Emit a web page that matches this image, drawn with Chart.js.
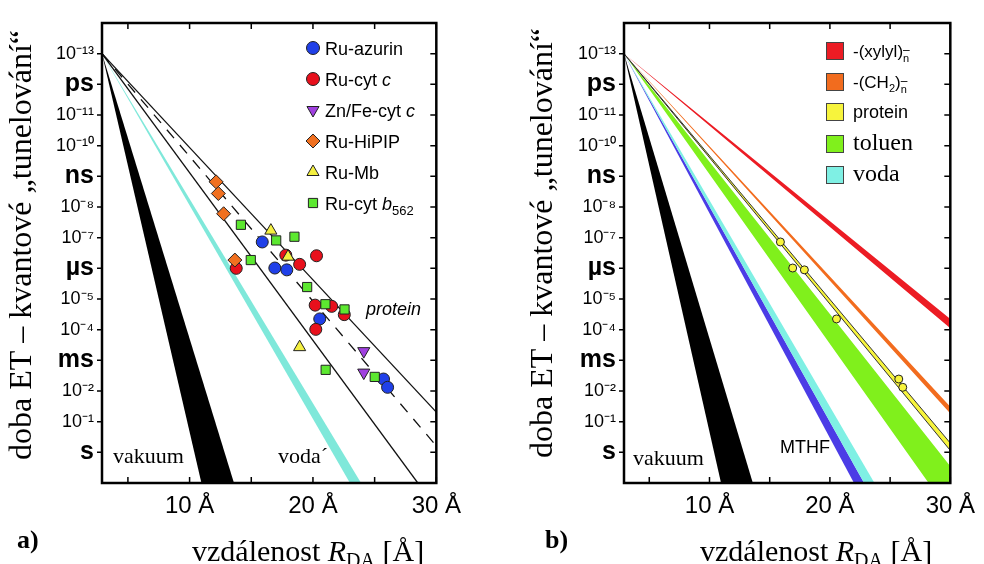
<!DOCTYPE html>
<html>
<head>
<meta charset="utf-8">
<script src="https://cdn.jsdelivr.net/npm/chart.js@4/dist/chart.umd.min.js"></script>
<style>
body { margin: 0; background: #fff; }
#wrap { position: relative; width: 984px; height: 564px; }
#chartA { position: absolute; left: 0; top: 0; }
#chartB { position: absolute; left: 470px; top: 0; }
</style>
</head>
<body>
<div id="wrap">
<canvas id="chartA" width="470" height="564"></canvas>
<canvas id="chartB" width="514" height="564"></canvas>
</div>
<script>
var SANS = '"Liberation Sans", Arial, sans-serif',
    SERIF = '"Liberation Serif", "Times New Roman", serif';

// y = log10(ET time / s)
var yTicks = [-13, -12, -11, -10, -9, -8, -7, -6, -5, -4, -3, -2, -1, 0];
var yLabels = ['10⁻¹³', 'ps', '10⁻¹¹', '10⁻¹⁰', 'ns', '10⁻⁸', '10⁻⁷', 'µs', '10⁻⁵', '10⁻⁴', 'ms', '10⁻²', '10⁻¹', 's'];
var unitLabels = ['ps', 'ns', 'µs', 'ms', 's'];
var xTicks = [5, 10, 15, 20, 25, 30];
var xLabels = ['', '10 Å', '', '20 Å', '', '30 Å'];

// panel a) measured points (R in Å, log10 t)
var azurinR = [15.89, 16.91, 17.88, 20.55, 25.72, 26.05];
var azurinT = [-6.86, -6.01, -5.95, -4.35, -2.39, -2.12];
var cytcR = [13.78, 17.80, 18.92, 20.29, 20.18, 21.52, 22.54, 20.23];
var cytcT = [-6.00, -6.43, -6.13, -6.41, -4.80, -4.76, -4.49, -4.01];
var znfeR = [24.12, 24.12];
var znfeT = [-3.30, -2.60];
var hipipR = [12.15, 12.33, 12.76, 13.67];
var hipipT = [-8.82, -8.44, -7.78, -6.27];
var mbR = [16.59, 17.98, 18.92];
var mbT = [-7.23, -6.38, -3.43];
var b562R = [14.16, 17.02, 18.50, 14.96, 19.53, 21.01, 22.56, 21.03, 25.01];
var b562T = [-7.42, -6.91, -7.03, -6.27, -5.39, -4.83, -4.66, -2.69, -2.46];

// decay lines and bands, vertices [R, log10 t]
var vacuumWedge = [[2.9, -13], [10.96, 1], [13.6, 1]];
var waterWedge = [[2.9, -13], [23.0, 1], [23.9, 1]];
var proteinUpper = [[2.9, -13], [30, -1.31]];
var proteinMean = [[2.9, -13], [30, -0.21]];
var proteinLower = [[2.9, -13], [28.5, 1]];

// panel b)
var mthfBand = [[2.9, -13], [22.0, 1], [22.84, 1]];
var waterBand = [[2.9, -13], [22.84, 1], [23.7, 1]];
var tolueneBand = [[2.9, -13], [30, 0.45], [30, 1], [28.2, 1]];
var proteinBand = [[2.9, -13], [30, -0.30], [30, -0.06], [2.9, -13]];
var ch2Band = [[2.9, -13], [30, -1.49], [30, -1.27]];
var xylylBand = [[2.9, -13], [30, -4.35], [30, -4.05]];

function pts(xs, ys) {
    return xs.map(function (x, i) { return {x: x, y: ys[i]}; });
}
function poly(list) {
    return list.map(function (p) { return {x: p[0], y: p[1]}; });
}
function markers(xs, ys, color, style, r, rot) {
    return {
        data: pts(xs, ys), showLine: false,
        pointStyle: style, pointRadius: r, pointRotation: rot || 0,
        backgroundColor: color, borderColor: '#222', borderWidth: 1
    };
}
function line(list, color, width, dash) {
    return {
        data: poly(list), showLine: true, fill: false, pointRadius: 0,
        borderColor: color, borderWidth: width, borderDash: dash || []
    };
}
function band(list, color, edge, edgeWidth) {
    return {
        data: poly(list), showLine: true, fill: 'shape', pointRadius: 0,
        backgroundColor: color, borderColor: edge || color, borderWidth: edgeWidth || 0
    };
}

function yFont(c) {
    var v = c && c.tick ? c.tick.value : null;
    var lab = yLabels[yTicks.indexOf(v)];
    return unitLabels.indexOf(lab) >= 0 ? {family: SANS, size: 25, weight: 'bold'} : {family: SANS, size: 18};
}

function scales(yWidth) {
    return {
        x: {
            type: 'linear', min: 2.9, max: 30,
            grid: {display: false, drawTicks: false}, border: {display: false},
            afterBuildTicks: function (s) { s.ticks = xTicks.map(function (v) { return {value: v}; }); },
            afterFit: function (s) { s.height = 81; },
            ticks: {
                padding: 9, color: '#000', autoSkip: false, maxRotation: 0,
                font: {family: SANS, size: 24},
                callback: function (v) { return xLabels[xTicks.indexOf(v)]; }
            }
        },
        y: {
            type: 'linear', min: -14, max: 1, reverse: true,
            grid: {display: false, drawTicks: false}, border: {display: false},
            afterBuildTicks: function (s) { s.ticks = yTicks.map(function (v) { return {value: v}; }); },
            afterFit: function (s) { s.width = yWidth; },
            ticks: {
                padding: 8, color: '#000', autoSkip: false,
                font: yFont,
                callback: function (v) { return yLabels[yTicks.indexOf(v)]; }
            }
        }
    };
}

function rich(c, x, y, parts) {
    parts.forEach(function (p) {
        c.font = p[1];
        c.fillText(p[0], x, y + (p[2] || 0));
        if (!p[3]) x += c.measureText(p[0]).width;
    });
}

function titles(c, tx, ty, bx, by) {
    c.save();
    c.translate(tx, ty);
    c.rotate(-Math.PI / 2);
    c.textAlign = 'center';
    c.textBaseline = 'middle';
    c.font = '32px ' + SERIF;
    c.fillText('doba ET – kvantové „tunelování“', 0, 0);
    c.restore();
    c.textAlign = 'left';
    c.textBaseline = 'alphabetic';
    rich(c, bx, by, [['vzdálenost ', '30px ' + SERIF], ['R', 'italic 30px ' + SERIF],
        ['DA', '20px ' + SERIF, 6], [' [Å]', '30px ' + SERIF]]);
}

function framePlugin(draw) {
    return {
        id: 'frame',
        beforeDraw: function (chart) {
            var c = chart.ctx;
            c.save();
            c.fillStyle = '#fff';
            c.fillRect(0, 0, chart.width, chart.height);
            c.restore();
        },
        afterDraw: function (chart) {
            var c = chart.ctx, a = chart.chartArea, xs = chart.scales.x, ys = chart.scales.y;
            c.save();
            c.strokeStyle = '#000';
            c.lineWidth = 1.5;
            c.beginPath();
            xTicks.forEach(function (v) {
                var px = xs.getPixelForValue(v);
                c.moveTo(px, a.top); c.lineTo(px, a.top + 6);
                c.moveTo(px, a.bottom); c.lineTo(px, a.bottom - 6);
            });
            yTicks.forEach(function (v) {
                var py = ys.getPixelForValue(v);
                c.moveTo(a.left - 5, py); c.lineTo(a.left, py);
                c.moveTo(a.right, py); c.lineTo(a.right - 6, py);
            });
            c.stroke();
            c.lineWidth = 2.5;
            c.strokeRect(a.left, a.top, a.right - a.left, a.bottom - a.top);
            c.fillStyle = '#000';
            draw(c, chart);
            c.restore();
        }
    };
}

var colA = {azurin: '#2040e8', cytc: '#e8101c', znfe: '#a040e0', hipip: '#f07020', mb: '#f4f040', b562: '#5ce830'};
var colB = {xylyl: '#ec1c24', ch2: '#f26c1e', protein: '#f7f43c', toluene: '#80f01c', water: '#7ff0e4', mthf: '#4b3ce6'};

var legendA = [
    {style: 'circle', r: 6.5, color: colA.azurin, parts: [['Ru-azurin', '18px ' + SANS]]},
    {style: 'circle', r: 6.5, color: colA.cytc, parts: [['Ru-cyt ', '18px ' + SANS], ['c', 'italic 18px ' + SANS]]},
    {style: 'triangle', r: 7, rot: 180, color: colA.znfe, parts: [['Zn/Fe-cyt ', '18px ' + SANS], ['c', 'italic 18px ' + SANS]]},
    {style: 'rectRot', r: 7, color: colA.hipip, parts: [['Ru-HiPIP', '18px ' + SANS]]},
    {style: 'triangle', r: 7, color: colA.mb, parts: [['Ru-Mb', '18px ' + SANS]]},
    {style: 'rect', r: 6.5, color: colA.b562, parts: [['Ru-cyt ', '18px ' + SANS], ['b', 'italic 18px ' + SANS], ['562', '13px ' + SANS, 5]]}
];
var legendRowsA = [48, 79, 110, 141, 172, 203];

var legendB = [
    {color: colB.xylyl, parts: [['-(xylyl)', '17px ' + SANS], ['–', '12px ' + SANS, -3, true], ['n', '11px ' + SANS, 5]]},
    {color: colB.ch2, parts: [['-(CH', '17px ' + SANS], ['2', '11px ' + SANS, 4], [')', '17px ' + SANS], ['–', '12px ' + SANS, -3, true], ['n', '11px ' + SANS, 5]]},
    {color: colB.protein, parts: [['protein', '18px ' + SANS]]},
    {color: colB.toluene, parts: [['toluen', '24px ' + SERIF]]},
    {color: colB.water, parts: [['voda', '24px ' + SERIF]]}
];
var legendRowsB = [51, 82, 112, 144, 175];

function drawA(c) {
    c.font = '22px ' + SERIF;
    c.fillText('vakuum', 113, 463);
    c.fillText('voda´', 278, 463);
    c.font = 'italic 18px ' + SANS;
    c.fillText('protein', 366, 315);
    c.font = 'bold 26px ' + SERIF;
    c.fillText('a)', 17, 548);
    titles(c, 23, 245, 192, 561);
    legendA.forEach(function (it, i) {
        var y = legendRowsA[i];
        c.fillStyle = it.color;
        c.strokeStyle = '#222';
        c.lineWidth = 1;
        Chart.helpers.drawPoint(c, {pointStyle: it.style, radius: it.r, rotation: it.rot || 0, borderWidth: 1}, 313, y);
        c.fillStyle = '#000';
        rich(c, 325, y + 6.5, it.parts);
    });
}

function drawB(c) {
    c.font = '22px ' + SERIF;
    c.fillText('vakuum', 163, 465);
    c.font = '18px ' + SANS;
    c.fillText('MTHF', 310, 453);
    c.font = 'bold 26px ' + SERIF;
    c.fillText('b)', 75, 548);
    titles(c, 74, 243, 230, 561);
    legendB.forEach(function (it, i) {
        var y = legendRowsB[i];
        c.fillStyle = it.color;
        c.fillRect(356, y - 9, 18, 18);
        c.strokeStyle = '#444';
        c.lineWidth = 1;
        c.strokeRect(356.5, y - 8.5, 17, 17);
        c.fillStyle = '#000';
        rich(c, 383, y + 6, it.parts);
    });
}

var common = {
    responsive: false, animation: false, events: [],
    plugins: {legend: {display: false}, tooltip: {enabled: false}}
};

new Chart(document.getElementById('chartA'), {
    type: 'scatter',
    data: {
        datasets: [
            markers(b562R, b562T, colA.b562, 'rect', 6.5),
            markers(mbR, mbT, colA.mb, 'triangle', 7),
            markers(hipipR, hipipT, colA.hipip, 'rectRot', 7),
            markers(znfeR, znfeT, colA.znfe, 'triangle', 7, 180),
            markers(cytcR, cytcT, colA.cytc, 'circle', 6),
            markers(azurinR, azurinT, colA.azurin, 'circle', 6),
            line(proteinMean, '#111', 1.3, [11, 9]),
            line(proteinUpper, '#111', 1.3),
            line(proteinLower, '#111', 1.3),
            band(waterWedge, '#7fe8da'),
            band(vacuumWedge, '#000')
        ]
    },
    options: Object.assign({}, common, {
        layout: {padding: {top: 16, right: 31, left: 0, bottom: 0}},
        scales: scales(102)
    }),
    plugins: [framePlugin(drawA)]
});

new Chart(document.getElementById('chartB'), {
    type: 'scatter',
    data: {
        datasets: [
            markers(azurinR, azurinT, colB.protein, 'circle', 4),
            band(proteinBand, colB.protein, '#333', 1),
            band(xylylBand, colB.xylyl),
            band(ch2Band, colB.ch2),
            band(tolueneBand, colB.toluene),
            band(waterBand, colB.water),
            band(mthfBand, colB.mthf),
            band(vacuumWedge, '#000')
        ]
    },
    options: Object.assign({}, common, {
        layout: {padding: {top: 20, right: 26, left: 0, bottom: 0}},
        scales: scales(154)
    }),
    plugins: [framePlugin(drawB)]
});
</script>
</body>
</html>
